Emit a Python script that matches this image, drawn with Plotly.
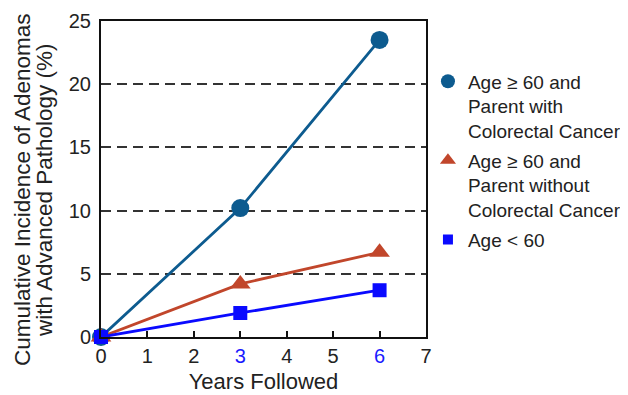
import plotly.graph_objects as go

years = [0, 3, 6]
parent_with_crc = [0.0, 10.2, 23.5]
parent_without_crc = [0.0, 4.2, 6.7]
age_under_60 = [0.0, 1.9, 3.7]

names = ["Age \u2265 60 and<br>Parent with<br>Colorectal Cancer",
         "Age \u2265 60 and<br>Parent without<br>Colorectal Cancer",
         "Age < 60"]
y_title_lines = ["Cumulative Incidence of Adenomas", "with Advanced Pathology (%)"]
x_title = "Years Followed"

x_tickvals = [0, 1, 2, 3, 4, 5, 6, 7]
x_ticktext = ["0", "1", "2", "<span style='color:#1a1aff'>3</span>", "4", "5",
              "<span style='color:#1a1aff'>6</span>", "7"]
y_tickvals = [0, 5, 10, 15, 20, 25]

c1, c2, c3 = "#0d5b8f", "#c1462b", "#0a0aff"
series = [(parent_with_crc, c1, "circle", 18),
          (parent_without_crc, c2, "triangle-up", 18),
          (age_under_60, c3, "square", 14)]

fig = go.Figure()
for (vals, col, sym, sz) in series:
    fig.add_trace(go.Scatter(x=years, y=vals, mode="lines+markers",
                             line=dict(color=col, width=2.8),
                             marker=dict(color=col, symbol=sym, size=sz),
                             showlegend=False, cliponaxis=False))
for i, ((vals, col, sym, sz), nm) in enumerate(zip(series, names)):
    fig.add_trace(go.Scatter(x=[None], y=[None], mode="markers", name=nm,
                             legendgroup="g%d" % i,
                             marker=dict(color=col, symbol=sym, size=sz - 4)))

for txt, xp in zip(y_title_lines, [-0.243, -0.1754]):
    fig.add_annotation(text=txt, xref="paper", yref="paper", x=xp, y=0.465,
                       xanchor="center", yanchor="middle", textangle=-90,
                       showarrow=False, font=dict(size=22.5, color="#222"))

fig.update_layout(
    width=620, height=387,
    margin=dict(l=93, r=202, t=13, b=58, autoexpand=False),
    paper_bgcolor="white", plot_bgcolor="white",
    font=dict(family="Liberation Sans, Arial, sans-serif", color="#222", size=19),
    legend=dict(x=1.006, y=0.869, xanchor="left", yanchor="top",
                valign="top", tracegroupgap=2, itemwidth=30,
                font=dict(size=19, color="#222")),
)
fig.update_xaxes(range=[0, 7], tickvals=x_tickvals, ticktext=x_ticktext,
                 showline=True, mirror=True, linecolor="#111", linewidth=2,
                 ticks="inside", ticklen=6, tickwidth=1.5, tickcolor="#111",
                 showgrid=False, zeroline=False, tickfont=dict(size=20),
                 automargin=False,
                 title=dict(text=x_title, font=dict(size=22), standoff=8))
fig.update_yaxes(range=[0, 25], tickvals=y_tickvals,
                 showline=True, mirror=True, linecolor="#111", linewidth=2,
                 ticks="", showgrid=True, gridcolor="#333", griddash="10px,6px",
                 gridwidth=1.5, zeroline=False, tickfont=dict(size=20),
                 ticklabelstandoff=4, automargin=False)

fig.write_html("out.html")
